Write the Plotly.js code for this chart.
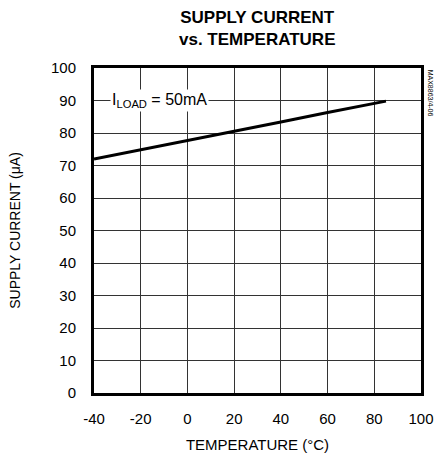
<!DOCTYPE html>
<html>
<head>
<meta charset="utf-8">
<script src="https://cdn.plot.ly/plotly-3.0.1.min.js"></script>
<style>html,body{margin:0;padding:0;background:#fff;}#chart{width:439px;height:456px;}</style>
</head>
<body>
<div id="chart"></div>
<script>
const temperature = [-40, -20, 0, 20, 40, 60, 85];
const supplyCurrent = [72, 74.8, 77.6, 80.5, 83.4, 86.3, 89.8];
const xTicks = [-40, -20, 0, 20, 40, 60, 80, 100];
const yTicks = [0, 10, 20, 30, 40, 50, 60, 70, 80, 90, 100];

const font = "Liberation Sans, Arial, sans-serif";
const trace = {
  x: temperature, y: supplyCurrent, mode: 'lines', type: 'scatter',
  line: {color: '#000', width: 3}, hoverinfo: 'skip'
};
const layout = {
  width: 439, height: 456,
  margin: {l: 94, r: 18, t: 68, b: 63},
  paper_bgcolor: '#fff', plot_bgcolor: '#fff',
  showlegend: false,
  font: {family: font, size: 14, color: '#000'},
  annotations: [
    {x: 0.5, y: 1, xref: 'paper', yref: 'paper', yshift: 62, xanchor: 'center', yanchor: 'top',
     text: '<b>SUPPLY CURRENT<br>vs. TEMPERATURE</b>', showarrow: false, align: 'center',
     font: {family: "Liberation Sans Narrow, Liberation Sans, Arial, sans-serif", size: 17, color: '#000'}},
    {x: -12, y: 90, xref: 'x', yref: 'y', text: 'I<sub>LOAD</sub> = 50mA', showarrow: false,
     bgcolor: '#fff', font: {size: 16}, borderpad: 1},
    {x: 1.03, y: 1, xref: 'paper', yref: 'paper', xanchor: 'center', yanchor: 'top',
     text: 'MAX8863/4-06', textangle: 90, showarrow: false, font: {size: 7}}
  ],
  xaxis: {
    range: [-40, 100], tickvals: xTicks, ticktext: xTicks.map(String),
    showgrid: true, gridcolor: '#333', gridwidth: 1, zeroline: false,
    showline: true, linecolor: '#000', linewidth: 3, mirror: true, ticks: '',
    tickfont: {size: 15}, ticklabelstandoff: 10,
    title: {text: 'TEMPERATURE (°C)', font: {size: 15}, standoff: 14}
  },
  yaxis: {
    range: [0, 100], tickvals: yTicks, ticktext: yTicks.map(String),
    showgrid: true, gridcolor: '#333', gridwidth: 1, zeroline: false,
    showline: true, linecolor: '#000', linewidth: 3, mirror: true, ticks: '',
    tickfont: {size: 15}, ticklabelstandoff: 12,
    title: {text: 'SUPPLY CURRENT (μA)', font: {size: 14}, standoff: 28}
  }
};
Plotly.newPlot('chart', [trace], layout, {staticPlot: true, displayModeBar: false});
</script>
</body>
</html>
